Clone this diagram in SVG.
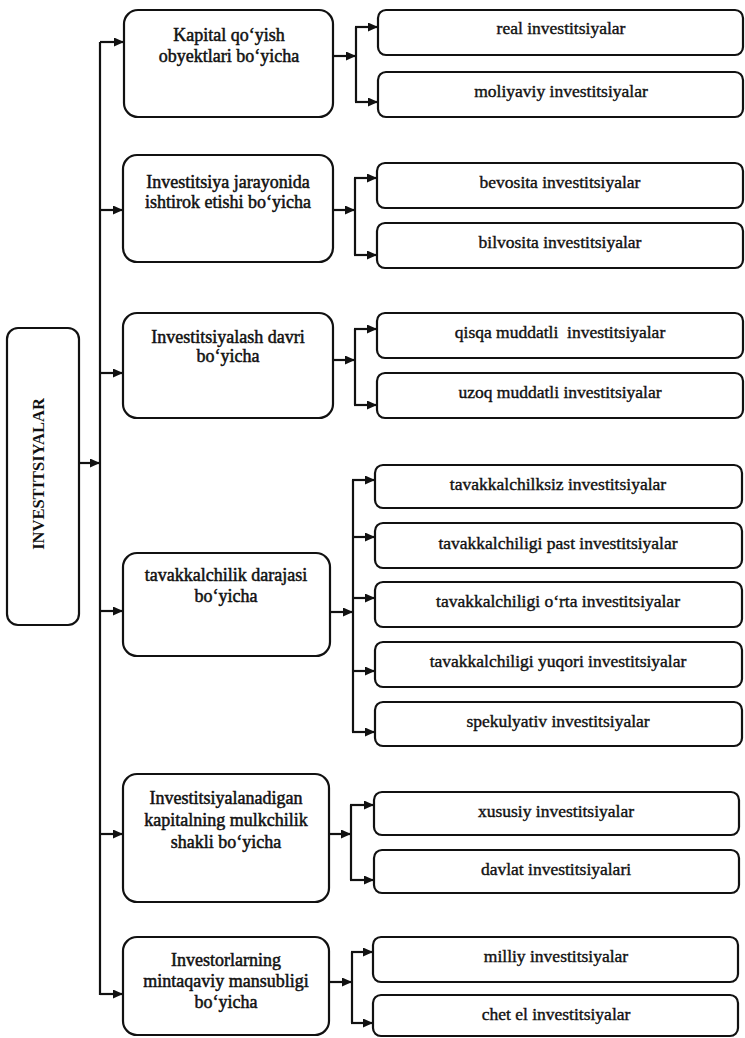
<svg xmlns="http://www.w3.org/2000/svg" width="745" height="1038" viewBox="0 0 745 1038">
  <style>
    .box { fill: #ffffff; stroke: #111111; stroke-width: 2.2; }
    .cat { font-family: "Liberation Serif", "Times New Roman", serif; font-size: 18px; fill: #111111; text-anchor: middle; stroke: #111111; stroke-width: 0.5; }
    .leaf { font-family: "Liberation Serif", "Times New Roman", serif; font-size: 17.5px; fill: #111111; text-anchor: middle; stroke: #111111; stroke-width: 0.4; }
    .root { font-family: "Liberation Serif", "Times New Roman", serif; font-size: 16.5px; font-weight: bold; fill: #111111; text-anchor: middle; }
    .wire { fill: none; stroke: #111111; stroke-width: 2.2; }
    .arr { fill: none; stroke: #111111; stroke-width: 2.2; marker-end: url(#head); }
  </style>
  <defs>
    <marker id="head" markerUnits="userSpaceOnUse" markerWidth="11" markerHeight="9" refX="10" refY="4.5" orient="auto">
      <path d="M0,0 L10,4.5 L0,9 z" fill="#111111"/>
    </marker>
  </defs>

  <rect width="745" height="1038" fill="#ffffff"/>

  <!-- connectors -->
  <g id="connectors">
    <!-- root to trunk -->
    <line class="arr" x1="79" y1="463" x2="100" y2="463"/>
    <!-- main trunk -->
    <line class="wire" x1="100" y1="42" x2="100" y2="995"/>
    <line class="arr" x1="100" y1="42" x2="124" y2="42"/>
    <line class="arr" x1="100" y1="210" x2="123" y2="210"/>
    <line class="arr" x1="100" y1="373" x2="123" y2="373"/>
    <line class="arr" x1="100" y1="611" x2="123" y2="611"/>
    <line class="arr" x1="100" y1="834" x2="123" y2="834"/>
    <line class="arr" x1="100" y1="994" x2="123" y2="994"/>

    <!-- group 1 -->
    <line class="arr" x1="333" y1="56" x2="356" y2="56"/>
    <path class="wire" d="M356,27 V102"/>
    <line class="arr" x1="355" y1="27" x2="378" y2="27"/>
    <line class="arr" x1="355" y1="102" x2="378" y2="102"/>

    <!-- group 2 -->
    <line class="arr" x1="333" y1="210" x2="355" y2="210"/>
    <path class="wire" d="M355,178 V255"/>
    <line class="arr" x1="354" y1="178" x2="377" y2="178"/>
    <line class="arr" x1="354" y1="255" x2="377" y2="255"/>

    <!-- group 3 -->
    <line class="arr" x1="333" y1="360" x2="355" y2="360"/>
    <path class="wire" d="M355,329 V405"/>
    <line class="arr" x1="354" y1="329" x2="377" y2="329"/>
    <line class="arr" x1="354" y1="405" x2="377" y2="405"/>

    <!-- group 4 -->
    <line class="arr" x1="330" y1="612" x2="353" y2="612"/>
    <path class="wire" d="M353,480 V732"/>
    <line class="arr" x1="352" y1="480" x2="375" y2="480"/>
    <line class="arr" x1="352" y1="537" x2="375" y2="537"/>
    <line class="arr" x1="352" y1="598" x2="375" y2="598"/>
    <line class="arr" x1="352" y1="671" x2="375" y2="671"/>
    <line class="arr" x1="352" y1="732" x2="375" y2="732"/>

    <!-- group 5 -->
    <line class="arr" x1="329" y1="834" x2="351" y2="834"/>
    <path class="wire" d="M351,805 V880"/>
    <line class="arr" x1="350" y1="805" x2="374" y2="805"/>
    <line class="arr" x1="350" y1="880" x2="374" y2="880"/>

    <!-- group 6 -->
    <line class="arr" x1="329" y1="982" x2="352" y2="982"/>
    <path class="wire" d="M352,952 V1023"/>
    <line class="arr" x1="351" y1="952" x2="373" y2="952"/>
    <line class="arr" x1="351" y1="1023" x2="373" y2="1023"/>
  </g>

  <!-- root -->
  <g id="root">
    <rect class="box" x="7" y="328" width="72" height="297" rx="11"/>
    <text class="root" transform="translate(44,474) rotate(-90)">INVESTITSIYALAR</text>
  </g>

  <!-- categories -->
  <g id="cat-kapital">
    <rect class="box" x="124" y="10" width="209" height="107" rx="14"/>
    <text class="cat" x="229" y="41">Kapital qo‘yish</text>
    <text class="cat" x="229" y="62">obyektlari bo‘yicha</text>
  </g>
  <g id="cat-jarayon">
    <rect class="box" x="123" y="155" width="210" height="107" rx="14"/>
    <text class="cat" x="228" y="188">Investitsiya jarayonida</text>
    <text class="cat" x="228" y="208">ishtirok etishi bo‘yicha</text>
  </g>
  <g id="cat-davr">
    <rect class="box" x="123" y="313" width="210" height="105" rx="14"/>
    <text class="cat" x="228" y="343">Investitsiyalash davri</text>
    <text class="cat" x="228" y="362">bo‘yicha</text>
  </g>
  <g id="cat-tavakkal">
    <rect class="box" x="123" y="553" width="207" height="103" rx="14"/>
    <text class="cat" x="226" y="581">tavakkalchilik darajasi</text>
    <text class="cat" x="226" y="602">bo‘yicha</text>
  </g>
  <g id="cat-mulk">
    <rect class="box" x="123" y="774" width="206" height="128" rx="14"/>
    <text class="cat" x="226" y="804">Investitsiyalanadigan</text>
    <text class="cat" x="226" y="826">kapitalning mulkchilik</text>
    <text class="cat" x="226" y="848">shakli bo‘yicha</text>
  </g>
  <g id="cat-mintaqa">
    <rect class="box" x="123" y="937" width="206" height="98" rx="14"/>
    <text class="cat" x="226" y="966">Investorlarning</text>
    <text class="cat" x="226" y="987">mintaqaviy mansubligi</text>
    <text class="cat" x="226" y="1008">bo‘yicha</text>
  </g>

  <!-- leaf boxes -->
  <g id="leaf-real">
    <rect class="box" x="378" y="10" width="365" height="45" rx="8"/>
    <text class="leaf" x="561" y="34">real investitsiyalar</text>
  </g>
  <g id="leaf-moliyaviy">
    <rect class="box" x="378" y="72" width="365" height="45" rx="8"/>
    <text class="leaf" x="561" y="97">moliyaviy investitsiyalar</text>
  </g>
  <g id="leaf-bevosita">
    <rect class="box" x="377" y="163" width="366" height="45" rx="8"/>
    <text class="leaf" x="560" y="188">bevosita investitsiyalar</text>
  </g>
  <g id="leaf-bilvosita">
    <rect class="box" x="377" y="223" width="366" height="45" rx="8"/>
    <text class="leaf" x="560" y="248">bilvosita investitsiyalar</text>
  </g>
  <g id="leaf-qisqa">
    <rect class="box" x="377" y="313" width="366" height="45" rx="8"/>
    <text class="leaf" x="560" y="338" xml:space="preserve">qisqa muddatli  investitsiyalar</text>
  </g>
  <g id="leaf-uzoq">
    <rect class="box" x="377" y="373" width="366" height="45" rx="8"/>
    <text class="leaf" x="560" y="398">uzoq muddatli investitsiyalar</text>
  </g>
  <g id="leaf-tavakkalsiz">
    <rect class="box" x="375" y="465" width="367" height="43" rx="8"/>
    <text class="leaf" x="558" y="490">tavakkalchilksiz investitsiyalar</text>
  </g>
  <g id="leaf-past">
    <rect class="box" x="375" y="523" width="367" height="45" rx="8"/>
    <text class="leaf" x="558" y="549">tavakkalchiligi past investitsiyalar</text>
  </g>
  <g id="leaf-orta">
    <rect class="box" x="375" y="582" width="367" height="45" rx="8"/>
    <text class="leaf" x="558" y="607">tavakkalchiligi o‘rta investitsiyalar</text>
  </g>
  <g id="leaf-yuqori">
    <rect class="box" x="375" y="642" width="367" height="45" rx="8"/>
    <text class="leaf" x="558" y="667">tavakkalchiligi yuqori investitsiyalar</text>
  </g>
  <g id="leaf-spekulyativ">
    <rect class="box" x="375" y="702" width="367" height="44" rx="8"/>
    <text class="leaf" x="558" y="727">spekulyativ investitsiyalar</text>
  </g>
  <g id="leaf-xususiy">
    <rect class="box" x="374" y="792" width="365" height="43" rx="8"/>
    <text class="leaf" x="556" y="817">xususiy investitsiyalar</text>
  </g>
  <g id="leaf-davlat">
    <rect class="box" x="374" y="850" width="365" height="43" rx="8"/>
    <text class="leaf" x="556" y="875">davlat investitsiyalari</text>
  </g>
  <g id="leaf-milliy">
    <rect class="box" x="373" y="937" width="365" height="45" rx="8"/>
    <text class="leaf" x="556" y="962">milliy investitsiyalar</text>
  </g>
  <g id="leaf-chet">
    <rect class="box" x="373" y="995" width="365" height="41" rx="8"/>
    <text class="leaf" x="556" y="1020">chet el investitsiyalar</text>
  </g>
</svg>
